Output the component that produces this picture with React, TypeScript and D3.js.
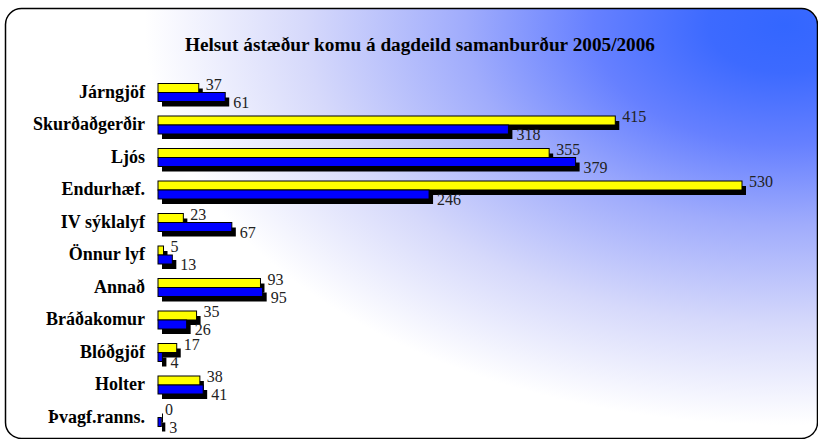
import React from "react";
import * as d3 from "d3";

const categories = [
  "Járngjöf",
  "Skurðaðgerðir",
  "Ljós",
  "Endurhæf.",
  "IV sýklalyf",
  "Önnur lyf",
  "Annað",
  "Bráðakomur",
  "Blóðgjöf",
  "Holter",
  "Þvagf.ranns.",
];
const values2006 = [37, 415, 355, 530, 23, 5, 93, 35, 17, 38, 0];
const values2005 = [61, 318, 379, 246, 67, 13, 95, 26, 4, 41, 3];
const title = "Helsut ástæður komu á dagdeild  samanburður 2005/2006";

const W = 818;
const H = 439;
const SERIF = "Liberation Serif, Times New Roman, serif";

export default function App() {
  const x = d3.scaleLinear().domain([0, 530]).range([158, 742]);
  const y = d3
    .scaleBand<string>()
    .domain(categories)
    .range([76.25, 433.75])
    .padding(0);
  const bh = 9;
  const sx = 4;
  const sy = 5;

  return (
    <svg
      width={W}
      height={H}
      style={{ position: "absolute", left: 0, top: 0, fontFamily: SERIF }}
    >
      <defs>
        <radialGradient
          id="bg"
          gradientUnits="userSpaceOnUse"
          cx={0}
          cy={0}
          r={1}
          gradientTransform="translate(785,25) scale(640,400)"
        >
          <stop offset="0" stopColor="#3366ff" />
          <stop offset="0.12" stopColor="#3d6aff" />
          <stop offset="0.3" stopColor="#6680ff" />
          <stop offset="0.5" stopColor="#a0acfc" />
          <stop offset="0.75" stopColor="#d6d9fb" />
          <stop offset="1" stopColor="#ffffff" />
        </radialGradient>
      </defs>
      <rect x={0} y={0} width={W} height={H} fill="#ffffff" />
      <rect
        x={5.5}
        y={8.5}
        width={812}
        height={430}
        rx={16}
        ry={16}
        fill="url(#bg)"
        stroke="#000"
        strokeWidth={1.5}
      />
      <text
        x={420}
        y={51}
        textAnchor="middle"
        fontWeight="bold"
        fontSize={18.5}
        textLength={470}
        lengthAdjust="spacingAndGlyphs"
        fill="#000"
        style={{ fontFamily: SERIF }}
      >
        {title}
      </text>
      {categories.map((c, i) => {
        const c0 = (y(c) as number) + y.bandwidth() / 2;
        const x0 = x(0);
        const xy = x(values2006[i]);
        const xb = x(values2005[i]);
        return (
          <g key={c}>
            <text
              x={145}
              y={c0 + 5}
              textAnchor="end"
              fontWeight="bold"
              fontSize={18}
              fill="#000"
              style={{ fontFamily: SERIF }}
            >
              {c}
            </text>
            <rect x={x0 + sx} y={c0 - bh + sy} width={Math.max(xy - x0, 1)} height={bh} fill="#000" />
            <rect x={x0 + sx} y={c0 + sy} width={Math.max(xb - x0, 1)} height={bh} fill="#000" />
            {values2006[i] > 0 && (
              <rect
                x={x0}
                y={c0 - bh}
                width={xy - x0}
                height={bh}
                fill="#ffff00"
                stroke="#000"
                strokeWidth={1}
              />
            )}
            <rect
              x={x0}
              y={c0}
              width={Math.max(xb - x0, 1)}
              height={bh}
              fill="#0000ff"
              stroke="#000"
              strokeWidth={1}
            />
            <text
              x={xy + sx + 3}
              y={c0 - 3}
              fontSize={16}
              fill="#222"
              style={{ fontFamily: SERIF }}
            >
              {values2006[i]}
            </text>
            <text
              x={xb + sx + 4}
              y={c0 + 15}
              fontSize={16}
              fill="#222"
              style={{ fontFamily: SERIF }}
            >
              {values2005[i]}
            </text>
          </g>
        );
      })}
    </svg>
  );
}
